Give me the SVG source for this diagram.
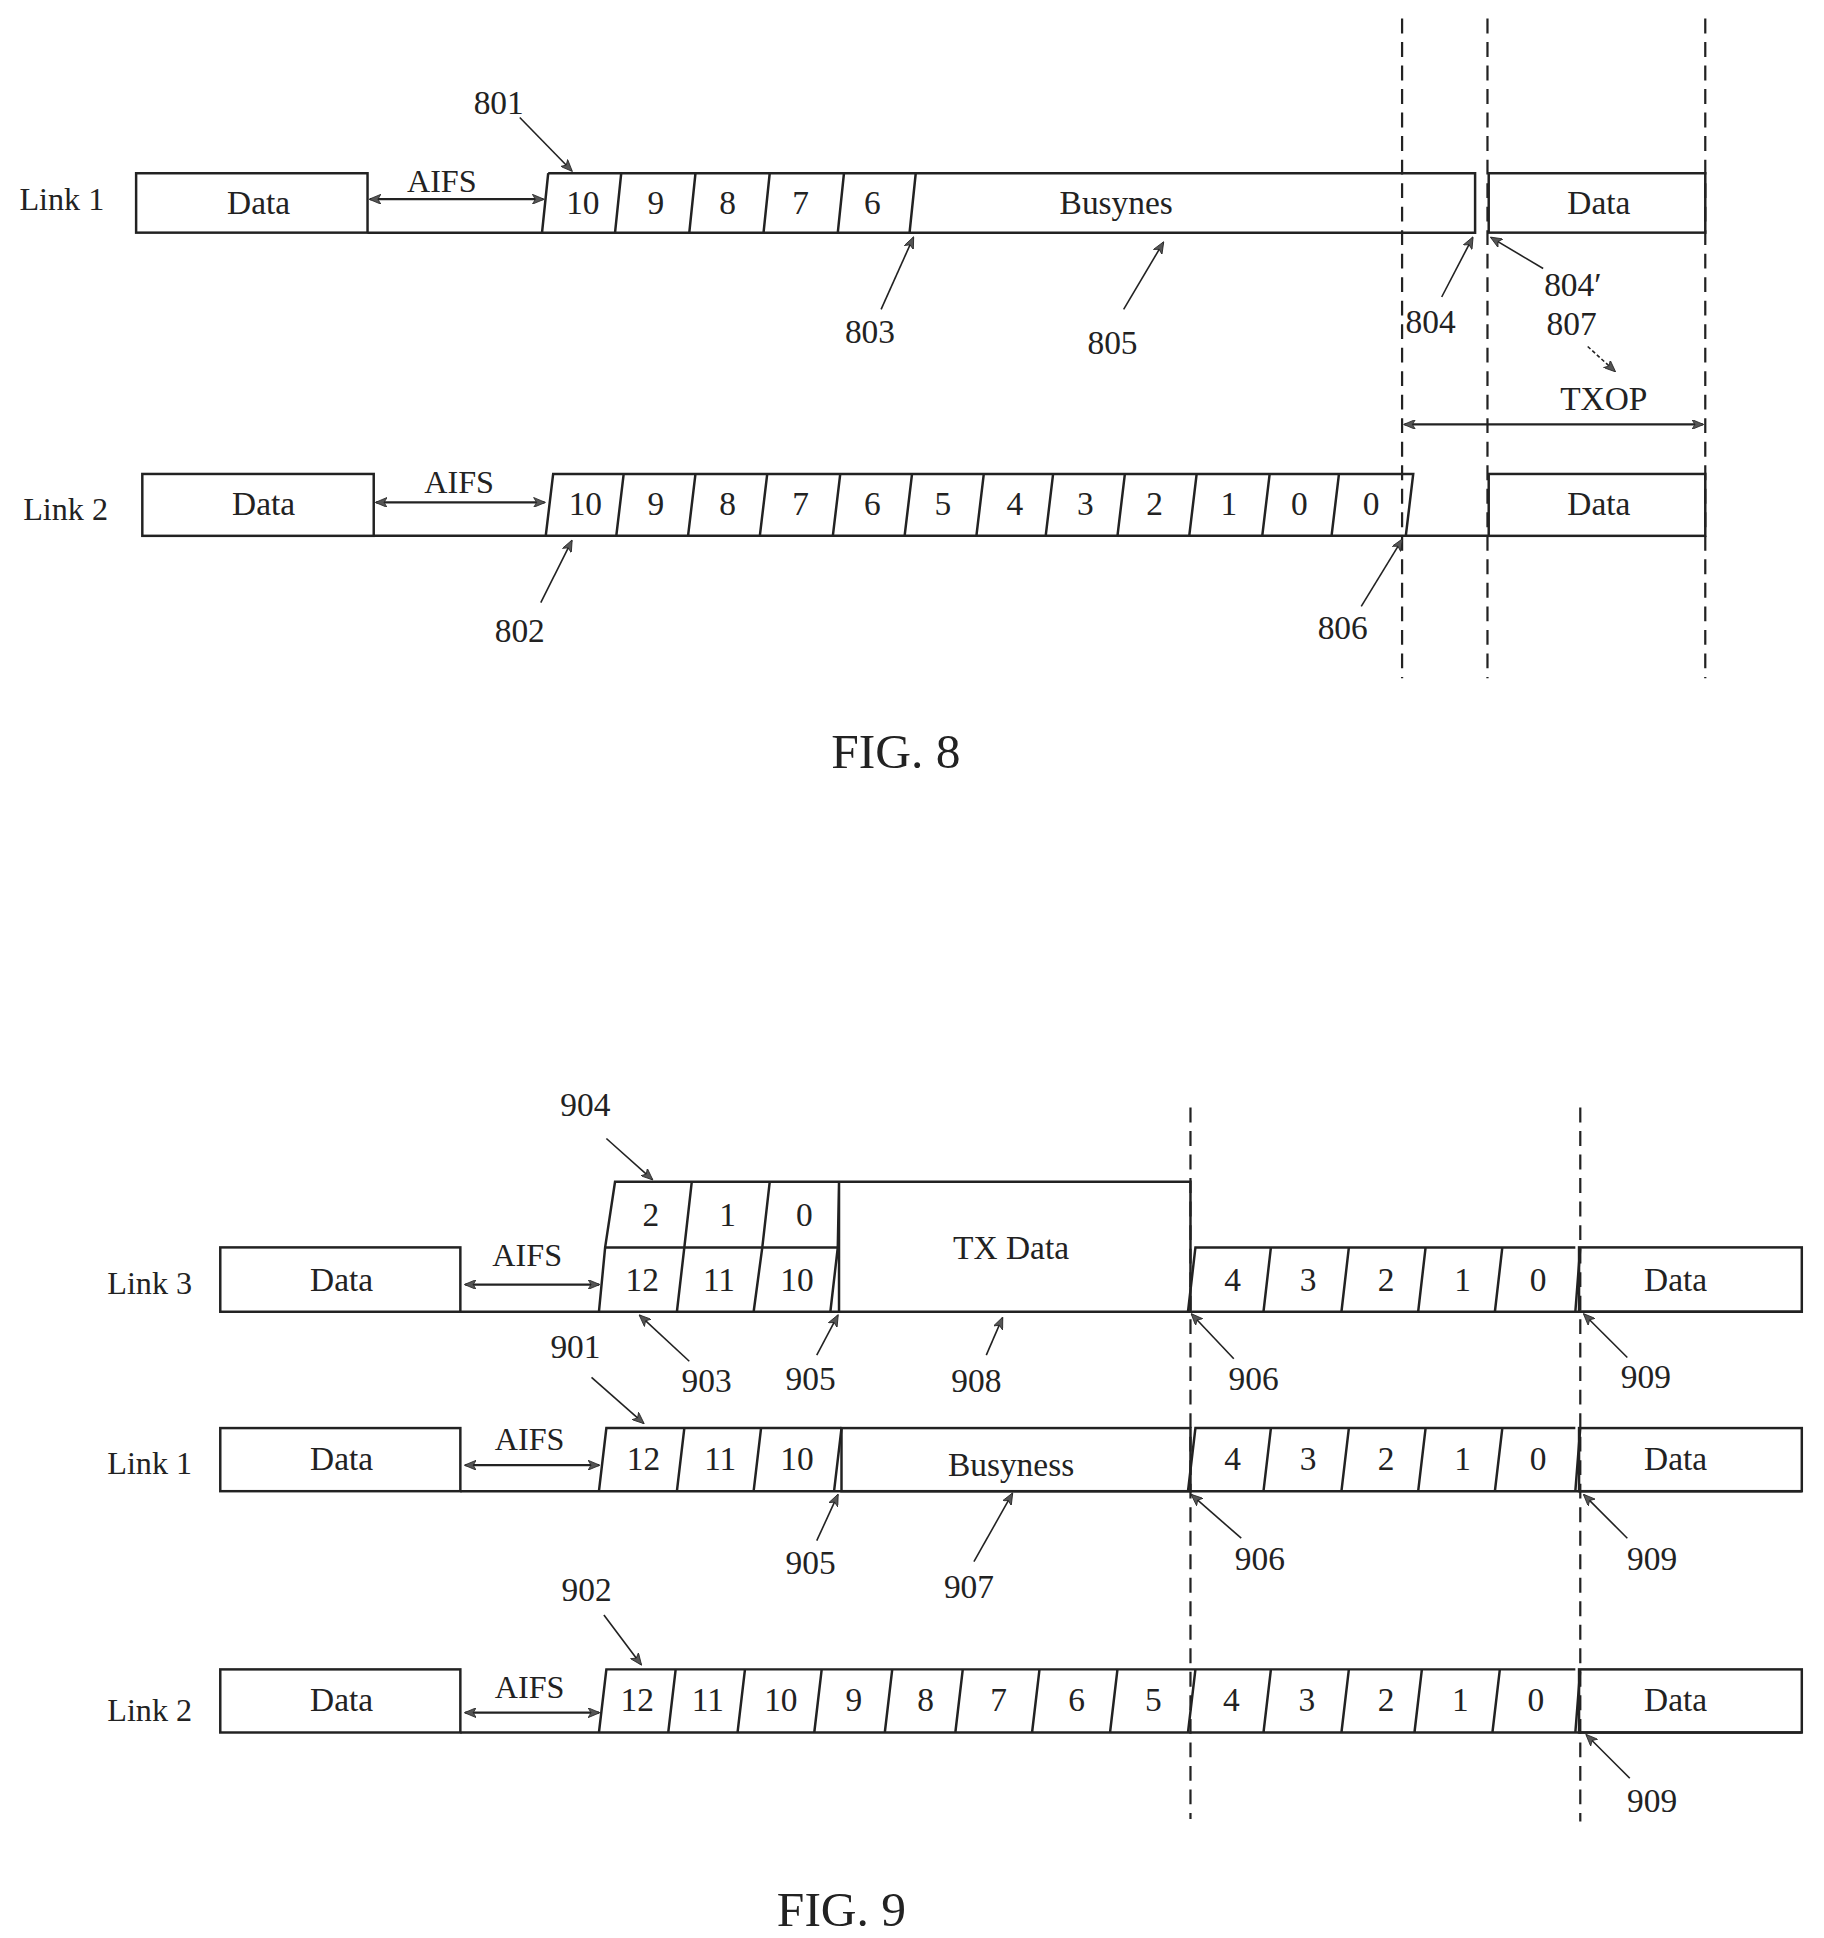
<svg xmlns="http://www.w3.org/2000/svg" width="1824" height="1938" viewBox="0 0 1824 1938">
<style>
text{font-family:"Liberation Serif",serif;fill:#222;text-anchor:middle}
.n{font-size:27px}
.l{font-size:26px}
.f{font-size:40px}
.s{stroke:#222;stroke-width:2;fill:none}
.d{stroke:#222;stroke-width:1.8;stroke-dasharray:12,7;fill:none}
.a{stroke:#222;stroke-width:1.3;fill:none;marker-end:url(#ah)}
.da{stroke:#222;stroke-width:1.8;fill:none;marker-end:url(#ah);marker-start:url(#ahs)}
</style>
<defs>
<marker id="ah" viewBox="0 0 12 10" refX="11" refY="5" markerWidth="10" markerHeight="8" orient="auto" markerUnits="userSpaceOnUse"><path d="M0,0 L12,5 L0,10 L3,5 Z" fill="#555" stroke="#222" stroke-width="0.8"/></marker>
<marker id="ahs" viewBox="0 0 12 10" refX="1" refY="5" markerWidth="10" markerHeight="8" orient="auto" markerUnits="userSpaceOnUse"><path d="M12,0 L0,5 L12,10 L9,5 Z" fill="#555" stroke="#222" stroke-width="0.8"/></marker>
</defs>
<rect width="1824" height="1938" fill="#fff"/>
<g transform="scale(1.2375)">
<g id="fig8-dashes">
<line class="d" x1="1133" y1="15" x2="1133" y2="548"/>
<line class="d" x1="1202" y1="15" x2="1202" y2="548"/>
<line class="d" x1="1378" y1="15" x2="1378" y2="548"/>
</g>
<g id="f8-link1">
<text class="l" x="50" y="170">Link 1</text>
<rect class="s" x="110" y="140" width="187" height="48"/>
<text class="n" x="209" y="173">Data</text>
<text class="l" x="357" y="155">AIFS</text>
<path class="s" d="M297,188 H1192 V140 H443 M438,188 L443,140 M497,188 L502,140 M557,188 L562,140 M617,188 L622,140 M677,188 L682,140 M735,188 L740,140"/>
<text class="n" x="471" y="173">10</text><text class="n" x="530" y="173">9</text><text class="n" x="588" y="173">8</text><text class="n" x="647" y="173">7</text><text class="n" x="705" y="173">6</text>
<text class="n" x="902" y="173">Busynes</text>
<rect class="s" x="1203" y="140" width="175" height="48"/>
<text class="n" x="1292" y="173">Data</text>
</g>
<g id="f8-link2">
<text class="l" x="53" y="420">Link 2</text>
<rect class="s" x="115" y="383" width="187" height="50"/>
<text class="n" x="213" y="416">Data</text>
<text class="l" x="371" y="398">AIFS</text>
<path class="s" d="M302,433 H1203 M441,433 L447,383 H1142 L1136,433 M498,433 L504,383 M556,433 L562,383 M614,433 L620,383 M673,433 L679,383 M731,433 L737,383 M789,433 L795,383 M845,433 L851,383 M903,433 L909,383 M961,433 L967,383 M1020,433 L1026,383 M1076,433 L1082,383"/>
<text class="n" x="473" y="416">10</text><text class="n" x="530" y="416">9</text><text class="n" x="588" y="416">8</text><text class="n" x="647" y="416">7</text><text class="n" x="705" y="416">6</text><text class="n" x="762" y="416">5</text><text class="n" x="820" y="416">4</text><text class="n" x="877" y="416">3</text><text class="n" x="933" y="416">2</text><text class="n" x="993" y="416">1</text><text class="n" x="1050" y="416">0</text><text class="n" x="1108" y="416">0</text>
<rect class="s" x="1203" y="383" width="175" height="50"/>
<text class="n" x="1292" y="416">Data</text>
</g>
<g id="f8-connectors">
<line class="da" x1="299" y1="161" x2="439" y2="161"/>
<line class="da" x1="304" y1="406" x2="440" y2="406"/>
<line class="da" x1="1135" y1="343" x2="1376" y2="343"/>
<line class="a" x1="420" y1="95" x2="462" y2="138"/>
<line class="a" x1="712" y1="250" x2="738" y2="192"/>
<line class="a" x1="908" y1="250" x2="940" y2="196"/>
<line class="a" x1="1165" y1="240" x2="1190" y2="192"/>
<line class="a" x1="1247" y1="217" x2="1205" y2="192"/>
<line class="a" x1="1283" y1="280" x2="1305" y2="300" stroke-dasharray="3,2"/>
<line class="a" x1="437" y1="487" x2="462" y2="437"/>
<line class="a" x1="1100" y1="490" x2="1133" y2="436"/>
</g>
<g id="f8-labels">
<text class="n" x="403" y="92">801</text>
<text class="n" x="703" y="277">803</text>
<text class="n" x="899" y="286">805</text>
<text class="n" x="1156" y="269">804</text>
<text class="n" x="1271" y="239">804′</text>
<text class="n" x="1270" y="271">807</text>
<text class="n" x="1296" y="331">TXOP</text>
<text class="n" x="420" y="519">802</text>
<text class="n" x="1085" y="516">806</text>
<text class="f" x="724" y="621">FIG. 8</text>
</g>
<g id="fig9-dashes">
<line class="d" x1="962" y1="895" x2="962" y2="1470"/>
<line class="d" x1="1277" y1="895" x2="1277" y2="1472"/>
</g>
<g id="f9-link3">
<text class="l" x="121" y="1046">Link 3</text>
<rect class="s" x="178" y="1008" width="194" height="52"/>
<text class="n" x="276" y="1043">Data</text>
<text class="l" x="426" y="1023">AIFS</text>
<path class="s" d="M372,1060 H1456 M484,1060 L489,1008 L497,955 H962 V1060 M547,1060 L553,1008 L559,955 M609,1060 L616,1008 L622,955 M671,1060 L677,1008 L678,955 M678,955 V1060 M489,1008 H677"/>
<text class="n" x="526" y="991">2</text><text class="n" x="588" y="991">1</text><text class="n" x="650" y="991">0</text>
<text class="n" x="519" y="1043">12</text><text class="n" x="581" y="1043">11</text><text class="n" x="644" y="1043">10</text>
<text class="n" x="817" y="1017">TX Data</text>
<path class="s" d="M960,1060 L966,1008 H1273 M1021,1060 L1027,1008 M1084,1060 L1090,1008 M1146,1060 L1152,1008 M1208,1060 L1214,1008 M1273,1060 L1277,1008"/>
<text class="n" x="996" y="1043">4</text><text class="n" x="1057" y="1043">3</text><text class="n" x="1120" y="1043">2</text><text class="n" x="1182" y="1043">1</text><text class="n" x="1243" y="1043">0</text>
<rect class="s" x="1276" y="1008" width="180" height="52"/>
<text class="n" x="1354" y="1043">Data</text>
</g>
<g id="f9-link1">
<text class="l" x="121" y="1191">Link 1</text>
<rect class="s" x="178" y="1154" width="194" height="51"/>
<text class="n" x="276" y="1188">Data</text>
<text class="l" x="428" y="1172">AIFS</text>
<path class="s" d="M372,1205 H1456 M484,1205 L490,1154 H680 M547,1205 L553,1154 M609,1205 L615,1154 M674,1205 L680,1154"/>
<text class="n" x="520" y="1188">12</text><text class="n" x="582" y="1188">11</text><text class="n" x="644" y="1188">10</text>
<rect class="s" x="680" y="1154" width="282" height="51"/>
<text class="n" x="817" y="1193">Busyness</text>
<path class="s" d="M960,1205 L966,1154 H1273 M1021,1205 L1027,1154 M1084,1205 L1090,1154 M1146,1205 L1152,1154 M1208,1205 L1214,1154 M1273,1205 L1277,1154"/>
<text class="n" x="996" y="1188">4</text><text class="n" x="1057" y="1188">3</text><text class="n" x="1120" y="1188">2</text><text class="n" x="1182" y="1188">1</text><text class="n" x="1243" y="1188">0</text>
<rect class="s" x="1276" y="1154" width="180" height="51"/>
<text class="n" x="1354" y="1188">Data</text>
</g>
<g id="f9-link2">
<text class="l" x="121" y="1391">Link 2</text>
<rect class="s" x="178" y="1349" width="194" height="51"/>
<text class="n" x="276" y="1383">Data</text>
<text class="l" x="428" y="1372">AIFS</text>
<path class="s" d="M372,1400 H1456 M484,1400 L490,1349 H1273 M540,1400 L546,1349 M596,1400 L602,1349 M658,1400 L664,1349 M715,1400 L721,1349 M772,1400 L778,1349 M834,1400 L840,1349 M897,1400 L903,1349 M960,1400 L966,1349 M1021,1400 L1027,1349 M1084,1400 L1090,1349 M1143,1400 L1149,1349 M1206,1400 L1212,1349 M1273,1400 L1277,1349"/>
<text class="n" x="515" y="1383">12</text><text class="n" x="572" y="1383">11</text><text class="n" x="631" y="1383">10</text><text class="n" x="690" y="1383">9</text><text class="n" x="748" y="1383">8</text><text class="n" x="807" y="1383">7</text><text class="n" x="870" y="1383">6</text><text class="n" x="932" y="1383">5</text><text class="n" x="995" y="1383">4</text><text class="n" x="1056" y="1383">3</text><text class="n" x="1120" y="1383">2</text><text class="n" x="1180" y="1383">1</text><text class="n" x="1241" y="1383">0</text>
<rect class="s" x="1276" y="1349" width="180" height="51"/>
<text class="n" x="1354" y="1383">Data</text>
</g>
<g id="f9-connectors">
<line class="da" x1="376" y1="1038" x2="484" y2="1038"/>
<line class="da" x1="376" y1="1184" x2="484" y2="1184"/>
<line class="da" x1="376" y1="1384" x2="484" y2="1384"/>
<line class="a" x1="490" y1="920" x2="527" y2="953"/>
<line class="a" x1="557" y1="1100" x2="517" y2="1063"/>
<line class="a" x1="660" y1="1095" x2="677" y2="1063"/>
<line class="a" x1="797" y1="1095" x2="810" y2="1065"/>
<line class="a" x1="997" y1="1098" x2="963" y2="1062"/>
<line class="a" x1="1315" y1="1097" x2="1280" y2="1062"/>
<line class="a" x1="478" y1="1113" x2="520" y2="1150"/>
<line class="a" x1="660" y1="1245" x2="677" y2="1208"/>
<line class="a" x1="787" y1="1262" x2="818" y2="1207"/>
<line class="a" x1="1003" y1="1243" x2="963" y2="1208"/>
<line class="a" x1="1315" y1="1243" x2="1280" y2="1208"/>
<line class="a" x1="488" y1="1305" x2="518" y2="1345"/>
<line class="a" x1="1317" y1="1437" x2="1282" y2="1402"/>
</g>
<g id="f9-labels">
<text class="n" x="473" y="902">904</text>
<text class="n" x="571" y="1125">903</text>
<text class="n" x="655" y="1123">905</text>
<text class="n" x="789" y="1125">908</text>
<text class="n" x="1013" y="1123">906</text>
<text class="n" x="1330" y="1122">909</text>
<text class="n" x="465" y="1097">901</text>
<text class="n" x="655" y="1272">905</text>
<text class="n" x="783" y="1291">907</text>
<text class="n" x="1018" y="1269">906</text>
<text class="n" x="1335" y="1269">909</text>
<text class="n" x="474" y="1294">902</text>
<text class="n" x="1335" y="1464">909</text>
<text class="f" x="680" y="1556">FIG. 9</text>
</g>
</g>
</svg>
